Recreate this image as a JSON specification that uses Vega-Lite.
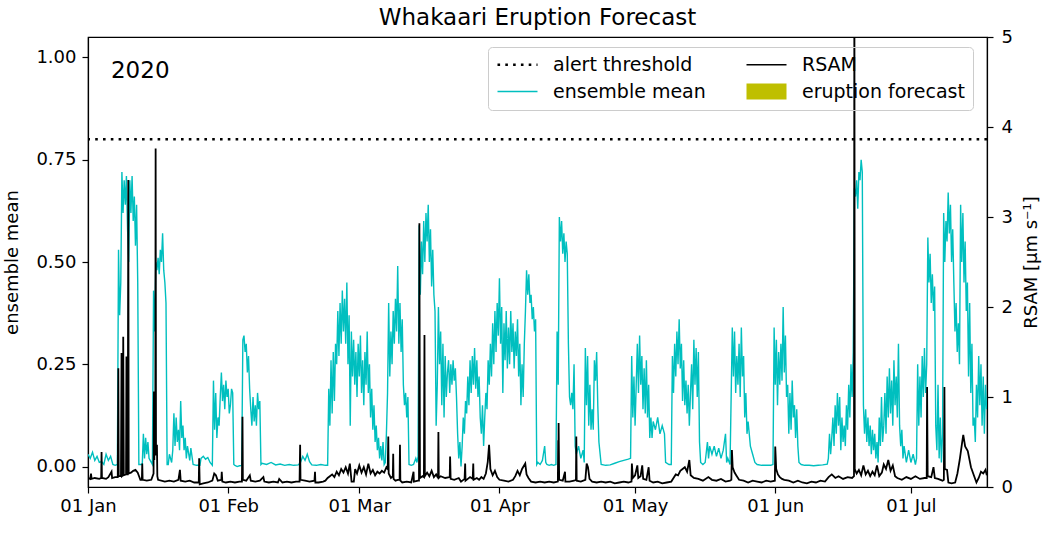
{
  "$schema": "https://vega.github.io/schema/vega-lite/v6.json",
  "width": 899,
  "height": 450,
  "autosize": {"type": "none"},
  "padding": {"left": 88, "top": 37, "right": 70, "bottom": 46},
  "background": "white",
  "title": {"text": "Whakaari Eruption Forecast", "fontSize": 23, "fontWeight": "normal", "font": "DejaVu Sans", "anchor": "middle", "frame": "group", "offset": -2, "color": "#000000"},
  "config": {
    "font": "DejaVu Sans",
    "view": {"stroke": "#000000", "strokeWidth": 1.2},
    "axis": {"domainColor": "#000000", "tickColor": "#000000", "labelColor": "#000000", "titleColor": "#000000", "labelFontSize": 18, "titleFontSize": 18, "titleFontWeight": "normal", "grid": false, "tickSize": 6, "domainWidth": 1.2, "tickWidth": 1.2, "labelFlush": false, "labelOverlap": false, "labelFont": "DejaVu Sans", "titleFont": "DejaVu Sans"}
  },
  "datasets": {
    "em": [
      {"t":"2020-01-01T00:00","v":0.03},{"t":"2020-01-01T12:00","v":0.02},{"t":"2020-01-02T00:00","v":0.035},{"t":"2020-01-02T12:00","v":0.015},{"t":"2020-01-03T00:00","v":0.025},{"t":"2020-01-03T12:00","v":0.01},{"t":"2020-01-04T00:00","v":0.012},{"t":"2020-01-04T12:00","v":0.005},{"t":"2020-01-05T00:00","v":0.03},{"t":"2020-01-05T12:00","v":0.015},{"t":"2020-01-06T00:00","v":0.025},{"t":"2020-01-06T12:00","v":0.005},{"t":"2020-01-07T00:00","v":0.003},{"t":"2020-01-07T12:00","v":0.005},
      {"t":"2020-01-07T18:00","v":0.53},{"t":"2020-01-08T00:00","v":0.37},{"t":"2020-01-08T06:00","v":0.45},{"t":"2020-01-08T12:00","v":0.72},{"t":"2020-01-08T18:00","v":0.62},{"t":"2020-01-09T00:00","v":0.70},{"t":"2020-01-09T06:00","v":0.64},{"t":"2020-01-09T12:00","v":0.71},{"t":"2020-01-09T18:00","v":0.58},{"t":"2020-01-10T00:00","v":0.50},{"t":"2020-01-10T06:00","v":0.70},{"t":"2020-01-10T12:00","v":0.62},{"t":"2020-01-10T18:00","v":0.71},{"t":"2020-01-11T00:00","v":0.60},{"t":"2020-01-11T06:00","v":0.66},{"t":"2020-01-11T12:00","v":0.54},{"t":"2020-01-11T18:00","v":0.64},{"t":"2020-01-12T00:00","v":0.45},
      {"t":"2020-01-12T06:00","v":0.005},{"t":"2020-01-12T12:00","v":0.005},{"t":"2020-01-13T00:00","v":0.005},{"t":"2020-01-13T06:00","v":0.08},{"t":"2020-01-13T12:00","v":0.02},{"t":"2020-01-13T18:00","v":0.07},{"t":"2020-01-14T00:00","v":0.03},{"t":"2020-01-14T06:00","v":0.06},{"t":"2020-01-14T12:00","v":0.02},{"t":"2020-01-15T00:00","v":0.01},{"t":"2020-01-15T06:00","v":0.005},
      {"t":"2020-01-15T12:00","v":0.43},{"t":"2020-01-15T18:00","v":0.33},{"t":"2020-01-16T00:00","v":0.50},{"t":"2020-01-16T06:00","v":0.48},{"t":"2020-01-16T12:00","v":0.51},{"t":"2020-01-16T18:00","v":0.47},{"t":"2020-01-17T00:00","v":0.53},{"t":"2020-01-17T06:00","v":0.50},{"t":"2020-01-17T12:00","v":0.57},{"t":"2020-01-17T18:00","v":0.48},{"t":"2020-01-18T00:00","v":0.45},{"t":"2020-01-18T06:00","v":0.40},
      {"t":"2020-01-18T12:00","v":0.005},{"t":"2020-01-18T18:00","v":0.005},{"t":"2020-01-19T00:00","v":0.03},{"t":"2020-01-19T12:00","v":0.01},{"t":"2020-01-19T18:00","v":0.04},{"t":"2020-01-20T00:00","v":0.13},{"t":"2020-01-20T06:00","v":0.05},{"t":"2020-01-20T12:00","v":0.12},{"t":"2020-01-20T18:00","v":0.06},{"t":"2020-01-21T00:00","v":0.09},{"t":"2020-01-21T06:00","v":0.04},{"t":"2020-01-21T12:00","v":0.16},{"t":"2020-01-21T18:00","v":0.07},{"t":"2020-01-22T00:00","v":0.10},{"t":"2020-01-22T06:00","v":0.04},{"t":"2020-01-22T12:00","v":0.07},{"t":"2020-01-22T18:00","v":0.02},{"t":"2020-01-23T00:00","v":0.05},{"t":"2020-01-23T12:00","v":0.015},{"t":"2020-01-23T18:00","v":0.045},{"t":"2020-01-24T06:00","v":0.005},{"t":"2020-01-25T00:00","v":0.003},{"t":"2020-01-25T18:00","v":0.003},{"t":"2020-01-26T00:00","v":0.02},{"t":"2020-01-26T12:00","v":0.025},{"t":"2020-01-27T00:00","v":0.018},{"t":"2020-01-27T12:00","v":0.022},{"t":"2020-01-28T00:00","v":0.01},{"t":"2020-01-28T12:00","v":0.003},
      {"t":"2020-01-28T18:00","v":0.21},{"t":"2020-01-29T00:00","v":0.09},{"t":"2020-01-29T06:00","v":0.18},{"t":"2020-01-29T12:00","v":0.07},{"t":"2020-01-29T18:00","v":0.12},{"t":"2020-01-30T00:00","v":0.10},{"t":"2020-01-30T06:00","v":0.17},{"t":"2020-01-30T12:00","v":0.23},{"t":"2020-01-30T18:00","v":0.16},{"t":"2020-01-31T00:00","v":0.20},{"t":"2020-01-31T06:00","v":0.14},{"t":"2020-01-31T12:00","v":0.21},{"t":"2020-01-31T18:00","v":0.17},{"t":"2020-02-01T00:00","v":0.19},{"t":"2020-02-01T06:00","v":0.13},{"t":"2020-02-01T12:00","v":0.15},{"t":"2020-02-01T18:00","v":0.19},{"t":"2020-02-02T00:00","v":0.18},
      {"t":"2020-02-02T06:00","v":0.005},{"t":"2020-02-02T12:00","v":0.003},{"t":"2020-02-03T00:00","v":0.0},{"t":"2020-02-03T12:00","v":0.002},{"t":"2020-02-04T00:00","v":0.003},
      {"t":"2020-02-04T06:00","v":0.31},{"t":"2020-02-04T12:00","v":0.32},{"t":"2020-02-04T18:00","v":0.28},{"t":"2020-02-05T00:00","v":0.30},{"t":"2020-02-05T06:00","v":0.23},{"t":"2020-02-05T12:00","v":0.27},{"t":"2020-02-05T18:00","v":0.19},{"t":"2020-02-06T00:00","v":0.14},{"t":"2020-02-06T06:00","v":0.10},{"t":"2020-02-06T12:00","v":0.17},{"t":"2020-02-06T18:00","v":0.11},{"t":"2020-02-07T00:00","v":0.15},{"t":"2020-02-07T06:00","v":0.10},{"t":"2020-02-07T12:00","v":0.18},{"t":"2020-02-07T18:00","v":0.14},{"t":"2020-02-08T00:00","v":0.16},
      {"t":"2020-02-08T06:00","v":0.005},{"t":"2020-02-08T12:00","v":0.008},{"t":"2020-02-09T12:00","v":0.005},{"t":"2020-02-10T12:00","v":0.01},{"t":"2020-02-11T12:00","v":0.004},{"t":"2020-02-12T12:00","v":0.006},{"t":"2020-02-13T12:00","v":0.003},{"t":"2020-02-14T12:00","v":0.005},{"t":"2020-02-15T12:00","v":0.003},{"t":"2020-02-16T12:00","v":0.004},{"t":"2020-02-17T00:00","v":0.01},{"t":"2020-02-17T12:00","v":0.025},{"t":"2020-02-18T00:00","v":0.015},{"t":"2020-02-18T12:00","v":0.03},{"t":"2020-02-19T00:00","v":0.012},{"t":"2020-02-19T12:00","v":0.004},{"t":"2020-02-20T12:00","v":0.003},{"t":"2020-02-21T12:00","v":0.005},{"t":"2020-02-22T12:00","v":0.003},{"t":"2020-02-23T00:00","v":0.003},
      {"t":"2020-02-23T06:00","v":0.19},{"t":"2020-02-23T12:00","v":0.10},{"t":"2020-02-23T18:00","v":0.26},{"t":"2020-02-24T00:00","v":0.13},{"t":"2020-02-24T06:00","v":0.28},{"t":"2020-02-24T12:00","v":0.16},{"t":"2020-02-24T18:00","v":0.30},{"t":"2020-02-25T00:00","v":0.25},{"t":"2020-02-25T06:00","v":0.38},{"t":"2020-02-25T12:00","v":0.27},{"t":"2020-02-25T18:00","v":0.40},{"t":"2020-02-26T00:00","v":0.30},{"t":"2020-02-26T06:00","v":0.43},{"t":"2020-02-26T12:00","v":0.33},{"t":"2020-02-26T18:00","v":0.41},{"t":"2020-02-27T00:00","v":0.30},{"t":"2020-02-27T06:00","v":0.45},{"t":"2020-02-27T12:00","v":0.25},{"t":"2020-02-27T18:00","v":0.37},{"t":"2020-02-28T00:00","v":0.10},{"t":"2020-02-28T06:00","v":0.33},{"t":"2020-02-28T12:00","v":0.22},{"t":"2020-02-28T18:00","v":0.31},{"t":"2020-02-29T00:00","v":0.20},{"t":"2020-02-29T06:00","v":0.28},{"t":"2020-02-29T12:00","v":0.17},{"t":"2020-02-29T18:00","v":0.30},
      {"t":"2020-03-01T00:00","v":0.22},{"t":"2020-03-01T06:00","v":0.32},{"t":"2020-03-01T12:00","v":0.18},{"t":"2020-03-01T18:00","v":0.26},{"t":"2020-03-02T00:00","v":0.15},{"t":"2020-03-02T06:00","v":0.28},{"t":"2020-03-02T12:00","v":0.20},{"t":"2020-03-02T18:00","v":0.33},{"t":"2020-03-03T00:00","v":0.18},{"t":"2020-03-03T06:00","v":0.25},{"t":"2020-03-03T12:00","v":0.12},{"t":"2020-03-03T18:00","v":0.19},{"t":"2020-03-04T00:00","v":0.09},{"t":"2020-03-04T06:00","v":0.15},{"t":"2020-03-04T12:00","v":0.06},{"t":"2020-03-04T18:00","v":0.10},{"t":"2020-03-05T00:00","v":0.04},{"t":"2020-03-05T06:00","v":0.07},{"t":"2020-03-05T12:00","v":0.02},{"t":"2020-03-05T18:00","v":0.05},{"t":"2020-03-06T00:00","v":0.015},{"t":"2020-03-06T06:00","v":0.06},{"t":"2020-03-06T12:00","v":0.005},{"t":"2020-03-06T18:00","v":0.01},
      {"t":"2020-03-07T00:00","v":0.08},{"t":"2020-03-07T06:00","v":0.18},{"t":"2020-03-07T12:00","v":0.40},{"t":"2020-03-07T18:00","v":0.22},{"t":"2020-03-08T00:00","v":0.33},{"t":"2020-03-08T06:00","v":0.25},{"t":"2020-03-08T12:00","v":0.38},{"t":"2020-03-08T18:00","v":0.30},{"t":"2020-03-09T00:00","v":0.41},{"t":"2020-03-09T06:00","v":0.33},{"t":"2020-03-09T12:00","v":0.49},{"t":"2020-03-09T18:00","v":0.30},{"t":"2020-03-10T00:00","v":0.40},{"t":"2020-03-10T06:00","v":0.28},{"t":"2020-03-10T12:00","v":0.36},{"t":"2020-03-10T18:00","v":0.20},{"t":"2020-03-11T00:00","v":0.15},{"t":"2020-03-11T06:00","v":0.18},{"t":"2020-03-11T12:00","v":0.12},{"t":"2020-03-11T18:00","v":0.17},
      {"t":"2020-03-12T00:00","v":0.005},{"t":"2020-03-12T12:00","v":0.003},{"t":"2020-03-13T00:00","v":0.005},{"t":"2020-03-13T12:00","v":0.02},{"t":"2020-03-13T18:00","v":0.01},{"t":"2020-03-14T00:00","v":0.025},
      {"t":"2020-03-14T06:00","v":0.59},{"t":"2020-03-14T12:00","v":0.42},{"t":"2020-03-14T18:00","v":0.55},{"t":"2020-03-15T00:00","v":0.47},{"t":"2020-03-15T06:00","v":0.60},{"t":"2020-03-15T12:00","v":0.50},{"t":"2020-03-15T18:00","v":0.62},{"t":"2020-03-16T00:00","v":0.55},{"t":"2020-03-16T06:00","v":0.64},{"t":"2020-03-16T12:00","v":0.50},{"t":"2020-03-16T18:00","v":0.58},{"t":"2020-03-17T00:00","v":0.44},{"t":"2020-03-17T06:00","v":0.53},{"t":"2020-03-17T12:00","v":0.42},{"t":"2020-03-17T18:00","v":0.38},{"t":"2020-03-18T00:00","v":0.10},{"t":"2020-03-18T06:00","v":0.20},{"t":"2020-03-18T12:00","v":0.39},{"t":"2020-03-18T18:00","v":0.25},{"t":"2020-03-19T00:00","v":0.33},{"t":"2020-03-19T06:00","v":0.15},{"t":"2020-03-19T12:00","v":0.30},{"t":"2020-03-19T18:00","v":0.12},{"t":"2020-03-20T00:00","v":0.27},{"t":"2020-03-20T06:00","v":0.17},{"t":"2020-03-20T12:00","v":0.23},{"t":"2020-03-20T18:00","v":0.26},{"t":"2020-03-21T00:00","v":0.18},{"t":"2020-03-21T06:00","v":0.25},{"t":"2020-03-21T12:00","v":0.20},{"t":"2020-03-21T18:00","v":0.26},{"t":"2020-03-22T00:00","v":0.21},{"t":"2020-03-22T06:00","v":0.24},{"t":"2020-03-22T12:00","v":0.17},{"t":"2020-03-22T18:00","v":0.08},{"t":"2020-03-23T00:00","v":0.02},{"t":"2020-03-23T06:00","v":0.06},{"t":"2020-03-23T12:00","v":0.0},{"t":"2020-03-23T18:00","v":0.05},
      {"t":"2020-03-24T00:00","v":0.12},{"t":"2020-03-24T06:00","v":0.08},{"t":"2020-03-24T12:00","v":0.16},{"t":"2020-03-24T18:00","v":0.13},{"t":"2020-03-25T00:00","v":0.22},{"t":"2020-03-25T06:00","v":0.15},{"t":"2020-03-25T12:00","v":0.26},{"t":"2020-03-25T18:00","v":0.18},{"t":"2020-03-26T00:00","v":0.27},{"t":"2020-03-26T06:00","v":0.20},{"t":"2020-03-26T12:00","v":0.29},{"t":"2020-03-26T18:00","v":0.19},{"t":"2020-03-27T00:00","v":0.26},{"t":"2020-03-27T06:00","v":0.17},{"t":"2020-03-27T12:00","v":0.22},{"t":"2020-03-27T18:00","v":0.12},{"t":"2020-03-28T00:00","v":0.08},{"t":"2020-03-28T06:00","v":0.15},{"t":"2020-03-28T12:00","v":0.05},{"t":"2020-03-28T18:00","v":0.12},{"t":"2020-03-29T00:00","v":0.18},{"t":"2020-03-29T06:00","v":0.14},{"t":"2020-03-29T12:00","v":0.26},{"t":"2020-03-29T18:00","v":0.20},{"t":"2020-03-30T00:00","v":0.30},{"t":"2020-03-30T06:00","v":0.22},{"t":"2020-03-30T12:00","v":0.35},{"t":"2020-03-30T18:00","v":0.25},{"t":"2020-03-31T00:00","v":0.38},{"t":"2020-03-31T06:00","v":0.28},{"t":"2020-03-31T12:00","v":0.40},{"t":"2020-03-31T18:00","v":0.32},
      {"t":"2020-04-01T00:00","v":0.46},{"t":"2020-04-01T06:00","v":0.30},{"t":"2020-04-01T12:00","v":0.39},{"t":"2020-04-01T18:00","v":0.18},{"t":"2020-04-02T00:00","v":0.35},{"t":"2020-04-02T06:00","v":0.26},{"t":"2020-04-02T12:00","v":0.38},{"t":"2020-04-02T18:00","v":0.24},{"t":"2020-04-03T00:00","v":0.34},{"t":"2020-04-03T06:00","v":0.25},{"t":"2020-04-03T12:00","v":0.38},{"t":"2020-04-03T18:00","v":0.28},{"t":"2020-04-04T00:00","v":0.35},{"t":"2020-04-04T06:00","v":0.24},{"t":"2020-04-04T12:00","v":0.33},{"t":"2020-04-04T18:00","v":0.27},{"t":"2020-04-05T00:00","v":0.36},{"t":"2020-04-05T06:00","v":0.22},{"t":"2020-04-05T12:00","v":0.30},{"t":"2020-04-05T18:00","v":0.15},{"t":"2020-04-06T00:00","v":0.25},{"t":"2020-04-06T06:00","v":0.17},{"t":"2020-04-06T12:00","v":0.30},{"t":"2020-04-06T18:00","v":0.38},{"t":"2020-04-07T00:00","v":0.48},{"t":"2020-04-07T06:00","v":0.42},{"t":"2020-04-07T12:00","v":0.47},{"t":"2020-04-07T18:00","v":0.40},{"t":"2020-04-08T00:00","v":0.42},{"t":"2020-04-08T06:00","v":0.36},{"t":"2020-04-08T12:00","v":0.39},{"t":"2020-04-08T18:00","v":0.33},{"t":"2020-04-09T00:00","v":0.36},
      {"t":"2020-04-09T06:00","v":0.005},{"t":"2020-04-09T12:00","v":0.01},{"t":"2020-04-10T00:00","v":0.005},{"t":"2020-04-10T12:00","v":0.015},{"t":"2020-04-11T00:00","v":0.05},{"t":"2020-04-11T06:00","v":0.01},{"t":"2020-04-11T12:00","v":0.005},{"t":"2020-04-12T00:00","v":0.003},{"t":"2020-04-12T12:00","v":0.005},{"t":"2020-04-13T00:00","v":0.003},{"t":"2020-04-13T12:00","v":0.005},
      {"t":"2020-04-13T18:00","v":0.33},{"t":"2020-04-14T00:00","v":0.20},{"t":"2020-04-14T06:00","v":0.61},{"t":"2020-04-14T12:00","v":0.55},{"t":"2020-04-14T18:00","v":0.60},{"t":"2020-04-15T00:00","v":0.52},{"t":"2020-04-15T06:00","v":0.57},{"t":"2020-04-15T12:00","v":0.50},{"t":"2020-04-15T18:00","v":0.55},{"t":"2020-04-16T00:00","v":0.52},{"t":"2020-04-16T06:00","v":0.30},{"t":"2020-04-16T12:00","v":0.17},{"t":"2020-04-16T18:00","v":0.15},{"t":"2020-04-17T00:00","v":0.18},{"t":"2020-04-17T06:00","v":0.14},{"t":"2020-04-17T12:00","v":0.25},{"t":"2020-04-17T18:00","v":0.05},{"t":"2020-04-18T00:00","v":0.03},{"t":"2020-04-18T12:00","v":0.05},{"t":"2020-04-19T00:00","v":0.02},{"t":"2020-04-19T12:00","v":0.04},{"t":"2020-04-19T18:00","v":0.01},
      {"t":"2020-04-20T00:00","v":0.29},{"t":"2020-04-20T06:00","v":0.15},{"t":"2020-04-20T12:00","v":0.27},{"t":"2020-04-20T18:00","v":0.10},{"t":"2020-04-21T00:00","v":0.20},{"t":"2020-04-21T06:00","v":0.09},{"t":"2020-04-21T12:00","v":0.14},{"t":"2020-04-21T18:00","v":0.09},{"t":"2020-04-22T00:00","v":0.26},{"t":"2020-04-22T06:00","v":0.21},{"t":"2020-04-22T12:00","v":0.28},{"t":"2020-04-22T18:00","v":0.15},{"t":"2020-04-23T00:00","v":0.06},{"t":"2020-04-23T12:00","v":0.005},{"t":"2020-04-24T12:00","v":0.003},{"t":"2020-04-25T12:00","v":0.004},{"t":"2020-04-26T12:00","v":0.008},{"t":"2020-04-27T12:00","v":0.012},{"t":"2020-04-28T12:00","v":0.015},{"t":"2020-04-29T12:00","v":0.018},{"t":"2020-04-30T00:00","v":0.02},
      {"t":"2020-04-30T06:00","v":0.27},{"t":"2020-04-30T12:00","v":0.12},{"t":"2020-04-30T18:00","v":0.22},{"t":"2020-05-01T00:00","v":0.10},{"t":"2020-05-01T06:00","v":0.20},{"t":"2020-05-01T12:00","v":0.30},{"t":"2020-05-01T18:00","v":0.18},{"t":"2020-05-02T00:00","v":0.32},{"t":"2020-05-02T06:00","v":0.20},{"t":"2020-05-02T12:00","v":0.27},{"t":"2020-05-02T18:00","v":0.14},{"t":"2020-05-03T00:00","v":0.24},{"t":"2020-05-03T06:00","v":0.13},{"t":"2020-05-03T12:00","v":0.26},{"t":"2020-05-03T18:00","v":0.12},{"t":"2020-05-04T00:00","v":0.20},{"t":"2020-05-04T06:00","v":0.07},{"t":"2020-05-04T12:00","v":0.12},{"t":"2020-05-04T18:00","v":0.07},{"t":"2020-05-05T00:00","v":0.11},{"t":"2020-05-05T12:00","v":0.09},{"t":"2020-05-06T00:00","v":0.12},{"t":"2020-05-06T12:00","v":0.08},{"t":"2020-05-07T00:00","v":0.10},{"t":"2020-05-07T12:00","v":0.08},{"t":"2020-05-07T18:00","v":0.01},{"t":"2020-05-08T12:00","v":0.005},{"t":"2020-05-09T00:00","v":0.005},
      {"t":"2020-05-09T06:00","v":0.27},{"t":"2020-05-09T12:00","v":0.18},{"t":"2020-05-09T18:00","v":0.30},{"t":"2020-05-10T00:00","v":0.22},{"t":"2020-05-10T06:00","v":0.33},{"t":"2020-05-10T12:00","v":0.25},{"t":"2020-05-10T18:00","v":0.36},{"t":"2020-05-11T00:00","v":0.24},{"t":"2020-05-11T06:00","v":0.30},{"t":"2020-05-11T12:00","v":0.16},{"t":"2020-05-11T18:00","v":0.26},{"t":"2020-05-12T00:00","v":0.15},{"t":"2020-05-12T06:00","v":0.21},{"t":"2020-05-12T12:00","v":0.13},{"t":"2020-05-12T18:00","v":0.20},{"t":"2020-05-13T00:00","v":0.10},{"t":"2020-05-13T06:00","v":0.18},{"t":"2020-05-13T12:00","v":0.25},{"t":"2020-05-13T18:00","v":0.14},{"t":"2020-05-14T00:00","v":0.31},{"t":"2020-05-14T06:00","v":0.20},{"t":"2020-05-14T12:00","v":0.29},{"t":"2020-05-14T18:00","v":0.17},{"t":"2020-05-15T00:00","v":0.28},{"t":"2020-05-15T06:00","v":0.06},{"t":"2020-05-15T12:00","v":0.01},
      {"t":"2020-05-16T00:00","v":0.005},{"t":"2020-05-16T12:00","v":0.01},{"t":"2020-05-17T00:00","v":0.06},{"t":"2020-05-17T06:00","v":0.02},{"t":"2020-05-17T12:00","v":0.05},{"t":"2020-05-18T00:00","v":0.03},{"t":"2020-05-18T12:00","v":0.05},{"t":"2020-05-19T00:00","v":0.025},{"t":"2020-05-19T12:00","v":0.045},{"t":"2020-05-20T00:00","v":0.02},{"t":"2020-05-20T12:00","v":0.04},{"t":"2020-05-21T00:00","v":0.08},{"t":"2020-05-21T06:00","v":0.01},{"t":"2020-05-21T12:00","v":0.02},{"t":"2020-05-22T00:00","v":0.005},
      {"t":"2020-05-22T12:00","v":0.34},{"t":"2020-05-22T18:00","v":0.22},{"t":"2020-05-23T00:00","v":0.33},{"t":"2020-05-23T06:00","v":0.18},{"t":"2020-05-23T12:00","v":0.27},{"t":"2020-05-23T18:00","v":0.20},{"t":"2020-05-24T00:00","v":0.30},{"t":"2020-05-24T06:00","v":0.17},{"t":"2020-05-24T12:00","v":0.34},{"t":"2020-05-24T18:00","v":0.22},{"t":"2020-05-25T00:00","v":0.27},{"t":"2020-05-25T06:00","v":0.12},{"t":"2020-05-25T12:00","v":0.18},{"t":"2020-05-25T18:00","v":0.08},{"t":"2020-05-26T00:00","v":0.11},{"t":"2020-05-26T12:00","v":0.05},{"t":"2020-05-27T00:00","v":0.03},{"t":"2020-05-27T12:00","v":0.01},{"t":"2020-05-28T00:00","v":0.005},{"t":"2020-05-29T00:00","v":0.003},{"t":"2020-05-30T00:00","v":0.003},{"t":"2020-05-31T00:00","v":0.003},{"t":"2020-05-31T12:00","v":0.005},
      {"t":"2020-05-31T18:00","v":0.34},{"t":"2020-06-01T00:00","v":0.20},{"t":"2020-06-01T06:00","v":0.31},{"t":"2020-06-01T12:00","v":0.15},{"t":"2020-06-01T18:00","v":0.28},{"t":"2020-06-02T00:00","v":0.20},{"t":"2020-06-02T06:00","v":0.30},{"t":"2020-06-02T12:00","v":0.21},{"t":"2020-06-02T18:00","v":0.39},{"t":"2020-06-03T00:00","v":0.23},{"t":"2020-06-03T06:00","v":0.32},{"t":"2020-06-03T12:00","v":0.17},{"t":"2020-06-03T18:00","v":0.20},{"t":"2020-06-04T00:00","v":0.08},{"t":"2020-06-04T06:00","v":0.18},{"t":"2020-06-04T12:00","v":0.09},{"t":"2020-06-04T18:00","v":0.21},{"t":"2020-06-05T00:00","v":0.12},{"t":"2020-06-05T06:00","v":0.15},{"t":"2020-06-05T12:00","v":0.07},{"t":"2020-06-05T18:00","v":0.14},{"t":"2020-06-06T00:00","v":0.05},{"t":"2020-06-06T06:00","v":0.01},{"t":"2020-06-06T18:00","v":0.005},{"t":"2020-06-07T12:00","v":0.003},{"t":"2020-06-08T12:00","v":0.003},{"t":"2020-06-09T12:00","v":0.002},{"t":"2020-06-10T12:00","v":0.003},{"t":"2020-06-11T12:00","v":0.004},{"t":"2020-06-12T12:00","v":0.006},
      {"t":"2020-06-12T18:00","v":0.02},{"t":"2020-06-13T00:00","v":0.08},{"t":"2020-06-13T06:00","v":0.03},{"t":"2020-06-13T12:00","v":0.07},{"t":"2020-06-13T18:00","v":0.12},{"t":"2020-06-14T00:00","v":0.05},{"t":"2020-06-14T06:00","v":0.15},{"t":"2020-06-14T12:00","v":0.08},{"t":"2020-06-14T18:00","v":0.18},{"t":"2020-06-15T00:00","v":0.10},{"t":"2020-06-15T06:00","v":0.17},{"t":"2020-06-15T12:00","v":0.04},{"t":"2020-06-15T18:00","v":0.12},{"t":"2020-06-16T00:00","v":0.06},{"t":"2020-06-16T06:00","v":0.10},{"t":"2020-06-16T12:00","v":0.05},{"t":"2020-06-16T18:00","v":0.15},{"t":"2020-06-17T00:00","v":0.09},{"t":"2020-06-17T06:00","v":0.20},{"t":"2020-06-17T12:00","v":0.12},{"t":"2020-06-17T18:00","v":0.25},{"t":"2020-06-18T00:00","v":0.17},{"t":"2020-06-18T06:00","v":0.28},
      {"t":"2020-06-18T12:00","v":0.68},{"t":"2020-06-18T18:00","v":0.66},{"t":"2020-06-19T00:00","v":0.70},{"t":"2020-06-19T06:00","v":0.63},{"t":"2020-06-19T12:00","v":0.72},{"t":"2020-06-19T18:00","v":0.70},{"t":"2020-06-20T00:00","v":0.75},{"t":"2020-06-20T06:00","v":0.72},
      {"t":"2020-06-20T12:00","v":0.15},{"t":"2020-06-20T18:00","v":0.08},{"t":"2020-06-21T00:00","v":0.14},{"t":"2020-06-21T06:00","v":0.06},{"t":"2020-06-21T12:00","v":0.12},{"t":"2020-06-21T18:00","v":0.05},{"t":"2020-06-22T00:00","v":0.10},{"t":"2020-06-22T06:00","v":0.03},{"t":"2020-06-22T12:00","v":0.09},{"t":"2020-06-22T18:00","v":0.04},{"t":"2020-06-23T00:00","v":0.08},{"t":"2020-06-23T06:00","v":0.02},{"t":"2020-06-23T12:00","v":0.06},{"t":"2020-06-23T18:00","v":0.01},{"t":"2020-06-24T00:00","v":0.12},{"t":"2020-06-24T06:00","v":0.05},{"t":"2020-06-24T12:00","v":0.17},{"t":"2020-06-24T18:00","v":0.06},{"t":"2020-06-25T00:00","v":0.10},{"t":"2020-06-25T06:00","v":0.18},{"t":"2020-06-25T12:00","v":0.08},{"t":"2020-06-25T18:00","v":0.22},{"t":"2020-06-26T00:00","v":0.12},{"t":"2020-06-26T06:00","v":0.24},{"t":"2020-06-26T12:00","v":0.13},{"t":"2020-06-26T18:00","v":0.21},{"t":"2020-06-27T00:00","v":0.10},{"t":"2020-06-27T06:00","v":0.26},{"t":"2020-06-27T12:00","v":0.15},{"t":"2020-06-27T18:00","v":0.22},{"t":"2020-06-28T00:00","v":0.12},{"t":"2020-06-28T06:00","v":0.30},{"t":"2020-06-28T12:00","v":0.10},{"t":"2020-06-28T18:00","v":0.05},{"t":"2020-06-29T00:00","v":0.09},{"t":"2020-06-29T06:00","v":0.02},{"t":"2020-06-29T12:00","v":0.05},{"t":"2020-06-30T00:00","v":0.01},{"t":"2020-06-30T12:00","v":0.04},{"t":"2020-07-01T00:00","v":0.01},{"t":"2020-07-01T12:00","v":0.03},{"t":"2020-07-02T00:00","v":0.005},{"t":"2020-07-02T06:00","v":0.02},
      {"t":"2020-07-02T12:00","v":0.25},{"t":"2020-07-02T18:00","v":0.10},{"t":"2020-07-03T00:00","v":0.22},{"t":"2020-07-03T06:00","v":0.12},{"t":"2020-07-03T12:00","v":0.27},{"t":"2020-07-03T18:00","v":0.17},{"t":"2020-07-04T00:00","v":0.29},{"t":"2020-07-04T06:00","v":0.18},{"t":"2020-07-04T12:00","v":0.25},{"t":"2020-07-04T18:00","v":0.56},{"t":"2020-07-05T00:00","v":0.45},{"t":"2020-07-05T06:00","v":0.52},{"t":"2020-07-05T12:00","v":0.40},{"t":"2020-07-05T18:00","v":0.47},{"t":"2020-07-06T00:00","v":0.38},{"t":"2020-07-06T06:00","v":0.44},{"t":"2020-07-06T12:00","v":0.10},{"t":"2020-07-06T18:00","v":0.04},{"t":"2020-07-07T00:00","v":0.20},{"t":"2020-07-07T06:00","v":0.02},{"t":"2020-07-07T12:00","v":0.12},{"t":"2020-07-07T18:00","v":0.01},{"t":"2020-07-08T00:00","v":0.08},
      {"t":"2020-07-08T06:00","v":0.62},{"t":"2020-07-08T12:00","v":0.50},{"t":"2020-07-08T18:00","v":0.60},{"t":"2020-07-09T00:00","v":0.55},{"t":"2020-07-09T06:00","v":0.67},{"t":"2020-07-09T12:00","v":0.57},{"t":"2020-07-09T18:00","v":0.64},{"t":"2020-07-10T00:00","v":0.50},{"t":"2020-07-10T06:00","v":0.58},{"t":"2020-07-10T12:00","v":0.45},{"t":"2020-07-10T18:00","v":0.33},{"t":"2020-07-11T00:00","v":0.40},{"t":"2020-07-11T06:00","v":0.28},{"t":"2020-07-11T12:00","v":0.35},{"t":"2020-07-11T18:00","v":0.25},{"t":"2020-07-12T00:00","v":0.64},{"t":"2020-07-12T06:00","v":0.50},{"t":"2020-07-12T12:00","v":0.62},{"t":"2020-07-12T18:00","v":0.45},{"t":"2020-07-13T00:00","v":0.55},{"t":"2020-07-13T06:00","v":0.38},{"t":"2020-07-13T12:00","v":0.45},{"t":"2020-07-13T18:00","v":0.22},{"t":"2020-07-14T00:00","v":0.40},{"t":"2020-07-14T06:00","v":0.18},{"t":"2020-07-14T12:00","v":0.30},{"t":"2020-07-14T18:00","v":0.10},{"t":"2020-07-15T00:00","v":0.12},{"t":"2020-07-15T06:00","v":0.06},{"t":"2020-07-15T12:00","v":0.20},{"t":"2020-07-15T18:00","v":0.12},{"t":"2020-07-16T00:00","v":0.27},{"t":"2020-07-16T06:00","v":0.15},{"t":"2020-07-16T12:00","v":0.25},{"t":"2020-07-16T18:00","v":0.10},{"t":"2020-07-17T00:00","v":0.22},{"t":"2020-07-17T06:00","v":0.08},{"t":"2020-07-17T12:00","v":0.20},{"t":"2020-07-17T18:00","v":0.14}
    ],
    "rsam": [
      {"t":"2020-01-01T00:00","r":0.10},{"t":"2020-01-01T12:00","r":0.09},{"t":"2020-01-01T16:00","r":0.15},{"t":"2020-01-01T19:00","r":0.09},{"t":"2020-01-02T12:00","r":0.10},{"t":"2020-01-03T12:00","r":0.09},{"t":"2020-01-03T22:00","r":0.10},{"t":"2020-01-04T00:00","r":0.39},{"t":"2020-01-04T02:00","r":0.10},{"t":"2020-01-05T00:00","r":0.09},{"t":"2020-01-05T12:00","r":0.11},{"t":"2020-01-06T05:00","r":0.17},{"t":"2020-01-06T08:00","r":0.10},{"t":"2020-01-07T00:00","r":0.11},{"t":"2020-01-07T14:00","r":0.11},{"t":"2020-01-07T17:00","r":1.32},{"t":"2020-01-07T19:00","r":0.12},{"t":"2020-01-08T07:00","r":0.12},{"t":"2020-01-08T10:00","r":1.49},{"t":"2020-01-08T12:00","r":0.12},{"t":"2020-01-08T17:00","r":0.13},{"t":"2020-01-08T19:00","r":1.67},{"t":"2020-01-08T22:00","r":0.13},{"t":"2020-01-09T10:00","r":0.14},{"t":"2020-01-09T12:00","r":1.45},{"t":"2020-01-09T14:00","r":0.14},{"t":"2020-01-09T19:00","r":0.14},{"t":"2020-01-09T22:00","r":3.41},{"t":"2020-01-10T00:00","r":0.15},{"t":"2020-01-10T12:00","r":0.16},{"t":"2020-01-11T00:00","r":0.18},{"t":"2020-01-11T12:00","r":0.19},{"t":"2020-01-12T00:00","r":0.16},{"t":"2020-01-12T07:00","r":0.12},{"t":"2020-01-12T14:00","r":0.08},{"t":"2020-01-12T22:00","r":0.08},{"t":"2020-01-13T00:00","r":0.26},{"t":"2020-01-13T02:00","r":0.08},{"t":"2020-01-14T00:00","r":0.07},{"t":"2020-01-15T00:00","r":0.08},{"t":"2020-01-15T12:00","r":0.15},{"t":"2020-01-15T14:00","r":1.06},{"t":"2020-01-15T16:00","r":0.30},{"t":"2020-01-15T19:00","r":0.95},{"t":"2020-01-15T21:00","r":0.35},{"t":"2020-01-15T23:00","r":3.76},{"t":"2020-01-16T01:00","r":0.40},{"t":"2020-01-16T06:00","r":0.47},{"t":"2020-01-16T08:00","r":0.12},{"t":"2020-01-16T12:00","r":0.08},{"t":"2020-01-18T00:00","r":0.06},{"t":"2020-01-19T00:00","r":0.07},{"t":"2020-01-20T00:00","r":0.06},{"t":"2020-01-21T00:00","r":0.08},{"t":"2020-01-21T08:00","r":0.19},{"t":"2020-01-21T12:00","r":0.07},{"t":"2020-01-22T12:00","r":0.06},{"t":"2020-01-23T12:00","r":0.07},{"t":"2020-01-24T12:00","r":0.05},{"t":"2020-01-25T12:00","r":0.05},{"t":"2020-01-25T14:00","r":0.32},{"t":"2020-01-25T17:00","r":0.03},{"t":"2020-01-26T12:00","r":0.04},{"t":"2020-01-27T12:00","r":0.05},{"t":"2020-01-28T12:00","r":0.07},{"t":"2020-01-28T22:00","r":0.15},{"t":"2020-01-29T07:00","r":0.13},{"t":"2020-01-29T17:00","r":0.07},{"t":"2020-01-30T12:00","r":0.08},{"t":"2020-01-30T14:00","r":0.17},{"t":"2020-01-30T17:00","r":0.06},{"t":"2020-01-31T12:00","r":0.05},
      {"t":"2020-02-01T12:00","r":0.06},{"t":"2020-02-02T12:00","r":0.05},{"t":"2020-02-03T12:00","r":0.06},{"t":"2020-02-04T01:00","r":0.06},{"t":"2020-02-04T04:00","r":0.78},{"t":"2020-02-04T06:00","r":0.08},{"t":"2020-02-05T00:00","r":0.07},{"t":"2020-02-05T19:00","r":0.13},{"t":"2020-02-06T00:00","r":0.07},{"t":"2020-02-07T00:00","r":0.06},{"t":"2020-02-08T00:00","r":0.07},{"t":"2020-02-08T19:00","r":0.11},{"t":"2020-02-09T00:00","r":0.06},{"t":"2020-02-10T00:00","r":0.05},{"t":"2020-02-11T00:00","r":0.06},{"t":"2020-02-12T00:00","r":0.05},{"t":"2020-02-12T07:00","r":0.09},{"t":"2020-02-13T00:00","r":0.05},{"t":"2020-02-14T00:00","r":0.06},{"t":"2020-02-15T00:00","r":0.05},{"t":"2020-02-16T00:00","r":0.06},{"t":"2020-02-16T19:00","r":0.06},{"t":"2020-02-16T22:00","r":0.47},{"t":"2020-02-17T00:00","r":0.08},{"t":"2020-02-18T00:00","r":0.07},{"t":"2020-02-19T00:00","r":0.06},{"t":"2020-02-20T02:00","r":0.07},{"t":"2020-02-20T05:00","r":0.17},{"t":"2020-02-20T07:00","r":0.05},{"t":"2020-02-21T00:00","r":0.05},{"t":"2020-02-22T00:00","r":0.06},{"t":"2020-02-22T12:00","r":0.07},{"t":"2020-02-23T00:00","r":0.10},{"t":"2020-02-23T12:00","r":0.12},{"t":"2020-02-24T00:00","r":0.14},{"t":"2020-02-24T12:00","r":0.11},{"t":"2020-02-25T00:00","r":0.17},{"t":"2020-02-25T12:00","r":0.13},{"t":"2020-02-26T00:00","r":0.20},{"t":"2020-02-26T12:00","r":0.16},{"t":"2020-02-27T00:00","r":0.22},{"t":"2020-02-27T12:00","r":0.15},{"t":"2020-02-27T22:00","r":0.26},{"t":"2020-02-28T07:00","r":0.06},{"t":"2020-02-28T19:00","r":0.06},{"t":"2020-02-29T02:00","r":0.20},{"t":"2020-02-29T12:00","r":0.15},
      {"t":"2020-03-01T00:00","r":0.24},{"t":"2020-03-01T12:00","r":0.16},{"t":"2020-03-02T00:00","r":0.22},{"t":"2020-03-02T12:00","r":0.14},{"t":"2020-03-03T00:00","r":0.26},{"t":"2020-03-03T12:00","r":0.15},{"t":"2020-03-04T00:00","r":0.19},{"t":"2020-03-04T12:00","r":0.13},{"t":"2020-03-05T00:00","r":0.17},{"t":"2020-03-05T12:00","r":0.15},{"t":"2020-03-06T00:00","r":0.18},{"t":"2020-03-06T12:00","r":0.16},{"t":"2020-03-07T00:00","r":0.22},{"t":"2020-03-07T07:00","r":0.20},{"t":"2020-03-07T10:00","r":0.56},{"t":"2020-03-07T12:00","r":0.15},{"t":"2020-03-08T00:00","r":0.10},{"t":"2020-03-08T10:00","r":0.12},{"t":"2020-03-08T12:00","r":0.37},{"t":"2020-03-08T14:00","r":0.09},{"t":"2020-03-09T00:00","r":0.07},{"t":"2020-03-09T12:00","r":0.08},{"t":"2020-03-09T22:00","r":0.08},{"t":"2020-03-10T00:00","r":0.47},{"t":"2020-03-10T02:00","r":0.07},{"t":"2020-03-10T12:00","r":0.05},{"t":"2020-03-11T12:00","r":0.06},{"t":"2020-03-12T12:00","r":0.05},{"t":"2020-03-13T00:00","r":0.17},{"t":"2020-03-13T02:00","r":0.06},{"t":"2020-03-14T00:00","r":0.07},{"t":"2020-03-14T05:00","r":0.07},{"t":"2020-03-14T07:00","r":2.93},{"t":"2020-03-14T10:00","r":0.10},{"t":"2020-03-15T00:00","r":0.12},{"t":"2020-03-15T07:00","r":0.11},{"t":"2020-03-15T10:00","r":1.69},{"t":"2020-03-15T12:00","r":0.12},{"t":"2020-03-16T00:00","r":0.16},{"t":"2020-03-16T12:00","r":0.12},{"t":"2020-03-17T00:00","r":0.18},{"t":"2020-03-17T12:00","r":0.11},{"t":"2020-03-18T00:00","r":0.14},{"t":"2020-03-18T10:00","r":0.10},{"t":"2020-03-18T12:00","r":0.61},{"t":"2020-03-18T14:00","r":0.10},{"t":"2020-03-19T00:00","r":0.12},{"t":"2020-03-20T00:00","r":0.10},{"t":"2020-03-21T00:00","r":0.11},{"t":"2020-03-21T02:00","r":0.34},{"t":"2020-03-21T05:00","r":0.09},{"t":"2020-03-22T00:00","r":0.08},{"t":"2020-03-23T00:00","r":0.10},{"t":"2020-03-23T12:00","r":0.06},{"t":"2020-03-24T07:00","r":0.09},{"t":"2020-03-24T10:00","r":0.26},{"t":"2020-03-24T12:00","r":0.07},{"t":"2020-03-25T00:00","r":0.09},{"t":"2020-03-25T12:00","r":0.11},{"t":"2020-03-26T02:00","r":0.09},{"t":"2020-03-26T05:00","r":0.26},{"t":"2020-03-26T07:00","r":0.08},{"t":"2020-03-27T00:00","r":0.10},{"t":"2020-03-27T12:00","r":0.08},{"t":"2020-03-28T00:00","r":0.11},{"t":"2020-03-28T12:00","r":0.09},{"t":"2020-03-29T00:00","r":0.15},{"t":"2020-03-29T10:00","r":0.28},{"t":"2020-03-29T17:00","r":0.47},{"t":"2020-03-30T00:00","r":0.20},{"t":"2020-03-30T12:00","r":0.13},{"t":"2020-03-31T00:00","r":0.18},{"t":"2020-03-31T12:00","r":0.11},
      {"t":"2020-04-01T00:00","r":0.08},{"t":"2020-04-02T00:00","r":0.07},{"t":"2020-04-03T00:00","r":0.06},{"t":"2020-04-04T00:00","r":0.08},{"t":"2020-04-04T12:00","r":0.12},{"t":"2020-04-05T00:00","r":0.18},{"t":"2020-04-05T12:00","r":0.13},{"t":"2020-04-06T00:00","r":0.20},{"t":"2020-04-06T17:00","r":0.26},{"t":"2020-04-07T00:00","r":0.14},{"t":"2020-04-07T10:00","r":0.10},{"t":"2020-04-08T00:00","r":0.06},{"t":"2020-04-09T00:00","r":0.05},{"t":"2020-04-10T00:00","r":0.06},{"t":"2020-04-11T00:00","r":0.05},{"t":"2020-04-12T00:00","r":0.06},{"t":"2020-04-13T00:00","r":0.05},{"t":"2020-04-13T22:00","r":0.06},{"t":"2020-04-14T00:00","r":0.52},{"t":"2020-04-14T01:00","r":0.10},{"t":"2020-04-14T02:00","r":0.71},{"t":"2020-04-14T05:00","r":0.08},{"t":"2020-04-15T00:00","r":0.07},{"t":"2020-04-15T12:00","r":0.17},{"t":"2020-04-15T14:00","r":0.06},{"t":"2020-04-16T12:00","r":0.06},{"t":"2020-04-17T12:00","r":0.07},{"t":"2020-04-17T22:00","r":0.08},{"t":"2020-04-18T00:00","r":0.56},{"t":"2020-04-18T02:00","r":0.07},{"t":"2020-04-19T00:00","r":0.06},{"t":"2020-04-20T00:00","r":0.08},{"t":"2020-04-20T07:00","r":0.26},{"t":"2020-04-20T14:00","r":0.22},{"t":"2020-04-20T22:00","r":0.09},{"t":"2020-04-21T12:00","r":0.06},{"t":"2020-04-22T12:00","r":0.05},{"t":"2020-04-23T12:00","r":0.06},{"t":"2020-04-24T12:00","r":0.05},{"t":"2020-04-25T12:00","r":0.06},{"t":"2020-04-26T12:00","r":0.04},{"t":"2020-04-27T12:00","r":0.05},{"t":"2020-04-28T12:00","r":0.06},{"t":"2020-04-29T12:00","r":0.05},{"t":"2020-04-30T05:00","r":0.06},{"t":"2020-04-30T07:00","r":0.26},{"t":"2020-04-30T12:00","r":0.10},
      {"t":"2020-05-01T00:00","r":0.13},{"t":"2020-05-01T12:00","r":0.24},{"t":"2020-05-01T17:00","r":0.10},{"t":"2020-05-02T05:00","r":0.12},{"t":"2020-05-02T14:00","r":0.24},{"t":"2020-05-02T19:00","r":0.09},{"t":"2020-05-03T12:00","r":0.08},{"t":"2020-05-04T00:00","r":0.22},{"t":"2020-05-04T05:00","r":0.07},{"t":"2020-05-05T00:00","r":0.05},{"t":"2020-05-06T00:00","r":0.06},{"t":"2020-05-07T00:00","r":0.04},{"t":"2020-05-08T00:00","r":0.05},{"t":"2020-05-09T00:00","r":0.06},{"t":"2020-05-09T12:00","r":0.10},{"t":"2020-05-10T00:00","r":0.14},{"t":"2020-05-10T12:00","r":0.13},{"t":"2020-05-11T00:00","r":0.18},{"t":"2020-05-11T12:00","r":0.20},{"t":"2020-05-12T00:00","r":0.22},{"t":"2020-05-12T12:00","r":0.17},{"t":"2020-05-13T00:00","r":0.30},{"t":"2020-05-13T07:00","r":0.13},{"t":"2020-05-14T00:00","r":0.10},{"t":"2020-05-15T00:00","r":0.09},{"t":"2020-05-16T00:00","r":0.07},{"t":"2020-05-17T05:00","r":0.11},{"t":"2020-05-18T00:00","r":0.08},{"t":"2020-05-19T00:00","r":0.07},{"t":"2020-05-20T00:00","r":0.09},{"t":"2020-05-21T00:00","r":0.06},{"t":"2020-05-22T00:00","r":0.07},{"t":"2020-05-22T07:00","r":0.08},{"t":"2020-05-22T10:00","r":0.41},{"t":"2020-05-22T14:00","r":0.22},{"t":"2020-05-23T00:00","r":0.16},{"t":"2020-05-23T12:00","r":0.12},{"t":"2020-05-24T00:00","r":0.08},{"t":"2020-05-25T00:00","r":0.07},{"t":"2020-05-26T00:00","r":0.05},{"t":"2020-05-27T00:00","r":0.07},{"t":"2020-05-28T00:00","r":0.06},{"t":"2020-05-29T00:00","r":0.05},{"t":"2020-05-30T00:00","r":0.07},{"t":"2020-05-31T00:00","r":0.06},{"t":"2020-05-31T22:00","r":0.07},
      {"t":"2020-06-01T00:00","r":0.45},{"t":"2020-06-01T05:00","r":0.20},{"t":"2020-06-01T14:00","r":0.14},{"t":"2020-06-02T00:00","r":0.11},{"t":"2020-06-02T12:00","r":0.09},{"t":"2020-06-03T00:00","r":0.08},{"t":"2020-06-04T00:00","r":0.07},{"t":"2020-06-05T00:00","r":0.05},{"t":"2020-06-06T00:00","r":0.07},{"t":"2020-06-07T00:00","r":0.05},{"t":"2020-06-08T00:00","r":0.04},{"t":"2020-06-09T00:00","r":0.06},{"t":"2020-06-10T00:00","r":0.05},{"t":"2020-06-11T00:00","r":0.07},{"t":"2020-06-12T00:00","r":0.06},{"t":"2020-06-12T19:00","r":0.11},{"t":"2020-06-13T12:00","r":0.14},{"t":"2020-06-14T07:00","r":0.10},{"t":"2020-06-15T00:00","r":0.12},{"t":"2020-06-16T00:00","r":0.09},{"t":"2020-06-17T00:00","r":0.11},{"t":"2020-06-18T00:00","r":0.10},{"t":"2020-06-18T10:00","r":0.12},{"t":"2020-06-18T12:00","r":6.0},{"t":"2020-06-18T14:00","r":0.20},{"t":"2020-06-19T00:00","r":0.15},{"t":"2020-06-19T12:00","r":0.19},{"t":"2020-06-20T00:00","r":0.13},{"t":"2020-06-20T12:00","r":0.24},{"t":"2020-06-21T00:00","r":0.14},{"t":"2020-06-21T12:00","r":0.18},{"t":"2020-06-22T00:00","r":0.12},{"t":"2020-06-22T12:00","r":0.17},{"t":"2020-06-23T00:00","r":0.13},{"t":"2020-06-23T12:00","r":0.24},{"t":"2020-06-24T00:00","r":0.12},{"t":"2020-06-24T14:00","r":0.16},{"t":"2020-06-25T00:00","r":0.25},{"t":"2020-06-25T12:00","r":0.20},{"t":"2020-06-26T00:00","r":0.30},{"t":"2020-06-26T12:00","r":0.18},{"t":"2020-06-27T00:00","r":0.24},{"t":"2020-06-27T12:00","r":0.12},{"t":"2020-06-28T00:00","r":0.10},{"t":"2020-06-29T00:00","r":0.08},{"t":"2020-06-30T00:00","r":0.11},
      {"t":"2020-07-01T00:00","r":0.09},{"t":"2020-07-02T00:00","r":0.12},{"t":"2020-07-03T00:00","r":0.09},{"t":"2020-07-04T00:00","r":0.10},{"t":"2020-07-04T12:00","r":0.10},{"t":"2020-07-04T14:00","r":1.11},{"t":"2020-07-04T17:00","r":0.12},{"t":"2020-07-05T12:00","r":0.11},{"t":"2020-07-06T00:00","r":0.22},{"t":"2020-07-06T07:00","r":0.10},{"t":"2020-07-07T00:00","r":0.09},{"t":"2020-07-08T00:00","r":0.07},{"t":"2020-07-08T07:00","r":0.08},{"t":"2020-07-08T10:00","r":1.11},{"t":"2020-07-08T12:00","r":0.20},{"t":"2020-07-09T00:00","r":0.19},{"t":"2020-07-09T07:00","r":0.05},{"t":"2020-07-10T00:00","r":0.04},{"t":"2020-07-10T19:00","r":0.05},{"t":"2020-07-11T07:00","r":0.15},{"t":"2020-07-11T19:00","r":0.30},{"t":"2020-07-12T07:00","r":0.48},{"t":"2020-07-12T14:00","r":0.58},{"t":"2020-07-13T00:00","r":0.45},{"t":"2020-07-13T14:00","r":0.40},{"t":"2020-07-14T07:00","r":0.22},{"t":"2020-07-15T00:00","r":0.12},{"t":"2020-07-15T12:00","r":0.05},{"t":"2020-07-16T00:00","r":0.10},{"t":"2020-07-16T12:00","r":0.17},{"t":"2020-07-17T00:00","r":0.15},{"t":"2020-07-17T12:00","r":0.19},{"t":"2020-07-17T19:00","r":0.13}
    ]
  },
  "layer": [
    {
      "layer": [
        {
          "data": {"name": "em"},
          "mark": {"type": "line", "strokeWidth": 1.4, "clip": true},
          "encoding": {
            "x": {"field": "t", "type": "temporal", "scale": {"domain": ["2020-01-01T00:00", "2020-07-17T20:00"], "nice": false}, "axis": {"format": "%d %b", "tickCount": {"interval": "month", "step": 1}, "title": null, "labelPadding": 4}},
            "y": {"field": "v", "type": "quantitative", "scale": {"domain": [-0.05, 1.05], "nice": false, "zero": false}, "axis": {"values": [0, 0.25, 0.5, 0.75, 1], "format": ".2f", "title": "ensemble mean", "labelPadding": 6, "titlePadding": 14}},
            "color": {
              "datum": "ensemble mean",
              "type": "nominal",
              "scale": {"domain": ["alert threshold", "ensemble mean", "RSAM", "eruption forecast"], "range": ["#000000", "#00bfbf", "#000000", "#bfbf00"]},
              "legend": {
                "title": null, "orient": "none", "legendX": 400, "legendY": 10, "columns": 2,
                "labelFontSize": 19, "labelColor": "#000000", "labelFont": "DejaVu Sans", "labelLimit": 400,
                "symbolSize": 256, "symbolOffset": 12, "labelOffset": 26, "columnPadding": 37, "rowPadding": 7,
                "strokeColor": "#cccccc", "cornerRadius": 4, "padding": 8,
                "encode": {"symbols": {"update": {
                  "shape": {"signal": "datum.value === 'eruption forecast' ? 'M-2.5,-1H2.5V1H-2.5Z' : 'M-2.5,0H2.5'"},
                  "fill": {"signal": "datum.value === 'eruption forecast' ? '#bfbf00' : 'transparent'"},
                  "strokeDash": {"signal": "datum.value === 'alert threshold' ? [2.6, 5.2] : [1, 0]"},
                  "strokeWidth": {"signal": "datum.value === 'alert threshold' ? 2.6 : (datum.value === 'eruption forecast' ? 0 : 1.5)"},
                  "opacity": {"value": 1}
                }}}
              }
            }
          }
        },
        {
          "data": {"values": [{}]},
          "mark": {"type": "rule", "strokeDash": [2.6, 5.2], "strokeWidth": 2.6},
          "encoding": {"y": {"datum": 0.8}, "color": {"datum": "alert threshold"}}
        },
        {
          "data": {"values": [{}]},
          "mark": {"type": "text", "fontSize": 23, "font": "DejaVu Sans", "align": "left", "baseline": "middle", "color": "#000000"},
          "encoding": {"x": {"datum": {"year": 2020, "month": 1, "date": 6, "hours": 2}}, "y": {"datum": 0.968}, "text": {"value": "2020"}}
        }
      ]
    },
    {
      "data": {"name": "rsam"},
      "mark": {"type": "line", "strokeWidth": 1.8, "clip": true},
      "encoding": {
        "x": {"field": "t", "type": "temporal"},
        "y": {"field": "r", "type": "quantitative", "scale": {"domain": [0, 5], "nice": false, "zero": false}, "axis": {"orient": "right", "values": [0, 1, 2, 3, 4, 5], "format": "d", "title": "RSAM [μm s⁻¹]", "titleAngle": 270, "titleBaseline": "top", "labelPadding": 8, "titlePadding": 10}},
        "color": {"datum": "RSAM"}
      }
    }
  ],
  "resolve": {"scale": {"y": "independent"}}
}
